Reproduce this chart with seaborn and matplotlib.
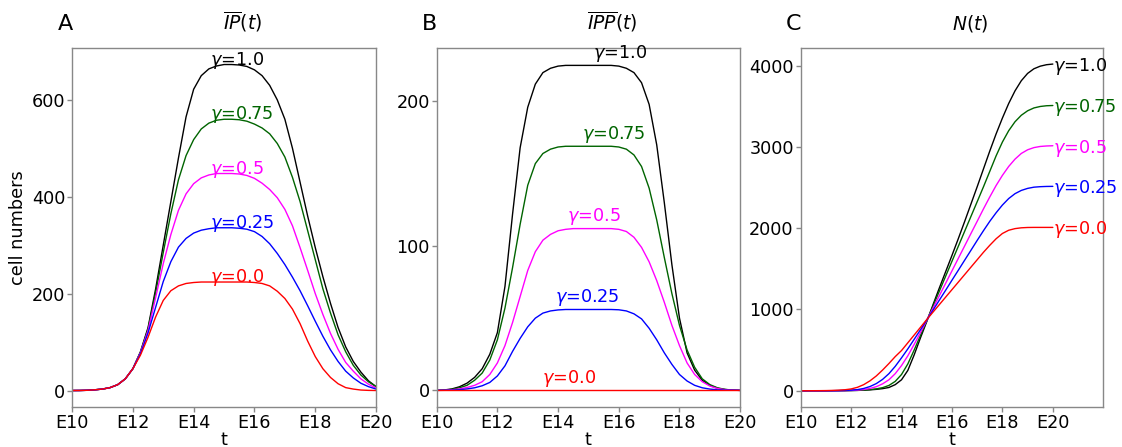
import matplotlib
matplotlib.use("Agg")
import matplotlib.pyplot as plt
import seaborn as sns

sns.set_style("white")
plt.rcParams['font.family'] = ['DejaVu Sans']
plt.rcParams['mathtext.fontset'] = 'dejavusans'
plt.rcParams['text.color'] = 'black'
plt.rcParams['axes.labelcolor'] = 'black'

# time in embryonic days (E10 .. E20, quarter-day readings)
t = [10.0, 10.25, 10.5, 10.75, 11.0, 11.25, 11.5, 11.75, 12.0,
     12.25, 12.5, 12.75, 13.0, 13.25, 13.5, 13.75, 14.0,
     14.25, 14.5, 14.75, 15.0, 15.25, 15.5, 15.75, 16.0,
     16.25, 16.5, 16.75, 17.0, 17.25, 17.5, 17.75, 18.0,
     18.25, 18.5, 18.75, 19.0, 19.25, 19.5, 19.75, 20.0]

gammas = ["1.0", "0.75", "0.5", "0.25", "0.0"]
colors = ["black", "darkgreen", "magenta", "blue", "red"]

# Panel A: IP(t)
ip_10 = [0, 0.1, 0.5, 1.5, 3, 6, 12, 24, 45,
         80, 130, 210, 300, 390, 480, 565, 622,
         650, 664, 670, 673, 673, 672, 669, 662,
         650, 630, 600, 560, 500, 430, 360, 295,
         235, 180, 130, 90, 60, 38, 20, 8]
ip_075 = [0, 0.1, 0.5, 1.5, 3, 6, 12, 24, 45,
          79, 127, 202, 285, 365, 435, 485, 518,
          540, 552, 558, 560, 560, 559, 556, 550,
          542, 530, 510, 482, 440, 390, 330, 270,
          210, 160, 115, 80, 52, 32, 18, 8]
ip_05 = [0, 0.1, 0.5, 1.5, 3, 6, 12, 24, 45,
         78, 124, 192, 262, 322, 372, 406, 427,
         439, 445, 448, 448, 448, 447, 444, 438,
         428, 415, 398, 374, 340, 295, 248, 200,
         157, 118, 85, 58, 40, 24, 13, 5]
ip_025 = [0, 0.1, 0.5, 1.5, 3, 6, 12, 24, 45,
          76, 119, 172, 225, 266, 296, 314, 325,
          331, 334, 336, 336, 336, 335, 333, 328,
          318, 303, 283, 260, 234, 206, 175, 143,
          112, 84, 60, 40, 26, 15, 8, 3]
ip_00 = [0, 0.1, 0.5, 1.5, 3, 6, 12, 24, 45,
         73, 110, 152, 186, 206, 216, 221, 223,
         224, 224, 224, 224, 224, 224, 224, 223,
         221, 216, 205, 190, 168, 138, 102, 70,
         45, 27, 14, 6, 3, 1, 0.3, 0]

# Panel B: IPP(t)
ipp_10 = [0, 0.3, 1, 2.5, 5, 9, 15, 25, 40,
          72, 122, 168, 196, 212, 220, 223, 224.5,
          225, 225, 225, 225, 225, 225, 225, 224.5,
          223, 220, 213, 198, 170, 130, 87, 50,
          26, 14, 7, 3.5, 1.5, 0.6, 0.2, 0]
ipp_075 = [0, 0.2, 0.7, 1.8, 3.5, 7, 12, 21, 35,
           57, 85, 115, 142, 157, 164, 167, 168.5,
           169, 169, 169, 169, 169, 169, 169, 168.5,
           167, 163, 155, 140, 118, 92, 67, 45,
           28, 16, 8, 4, 1.8, 0.7, 0.2, 0]
ipp_05 = [0, 0.1, 0.4, 1, 2, 3.5, 6, 11, 19,
          31, 47, 65, 83, 96, 104, 108, 110.5,
          111.5, 112, 112, 112, 112, 112, 112, 111.5,
          110, 106, 99, 89, 76, 61, 45, 31,
          19, 11, 6, 3, 1.3, 0.5, 0.2, 0]
ipp_025 = [0, 0.05, 0.2, 0.5, 1, 1.8, 3.2, 5.5, 10,
           17, 27, 36, 44, 50, 53.5, 55, 55.7,
           56, 56, 56, 56, 56, 56, 56, 55.8,
           55, 53, 49.5, 43, 35, 26, 18, 11,
           6.5, 3.5, 1.8, 0.9, 0.4, 0.2, 0.1, 0]
ipp_00 = [0, 0, 0, 0, 0, 0, 0, 0, 0,
          0, 0, 0, 0, 0, 0, 0, 0,
          0, 0, 0, 0, 0, 0, 0, 0,
          0, 0, 0, 0, 0, 0, 0, 0,
          0, 0, 0, 0, 0, 0, 0, 0]

# Panel C: N(t)
n_10 = [0, 0, 0, 0, 0, 0.5, 1, 1.5, 2.5,
        4, 7, 11, 17, 26, 40, 75, 135,
        250, 440, 650, 851, 1060, 1265, 1465, 1665,
        1870, 2080, 2295, 2510, 2730, 2950, 3160, 3355,
        3535, 3690, 3815, 3905, 3962, 3994, 4012, 4020]
n_075 = [0, 0, 0, 0, 0.2, 0.5, 1, 1.5, 3,
         5, 9, 14, 23, 38, 65, 115, 200,
         330, 500, 680, 860, 1043, 1226, 1410, 1593,
         1776, 1960, 2143, 2326, 2510, 2700, 2890, 3060,
         3200, 3310, 3390, 3445, 3480, 3498, 3507, 3510]
n_05 = [0, 0, 0, 0, 0.2, 0.5, 1, 2, 4,
        8, 15, 28, 50, 85, 135, 210, 310,
        430, 570, 715, 865, 1018, 1170, 1323, 1475,
        1628, 1780, 1933, 2085, 2238, 2385, 2525, 2650,
        2760, 2850, 2920, 2965, 2992, 3006, 3012, 3015]
n_025 = [0, 0, 0, 0, 0.2, 0.6, 1.5, 3.5, 7,
         14, 28, 52, 88, 140, 210, 300, 405,
         515, 632, 750, 870, 992, 1115, 1237, 1360,
         1482, 1605, 1727, 1850, 1970, 2085, 2190, 2285,
         2365, 2425, 2465, 2490, 2505, 2511, 2514, 2515]
n_00 = [0, 0, 0.5, 1, 2, 4, 7, 12, 22,
        42, 75, 122, 182, 255, 335, 420, 495,
        590, 685, 780, 876, 968, 1060, 1152, 1244,
        1336, 1428, 1520, 1612, 1704, 1790, 1870, 1935,
        1975, 1995, 2005, 2009, 2010, 2010, 2010, 2010]

xticks = [10, 12, 14, 16, 18, 20]
xticklabels = ["E10", "E12", "E14", "E16", "E18", "E20"]

# label x positions for panel B labels
b_label_x = [15.16, 14.78, 14.29, 13.9, 13.47]

FS = 12.7
GRAY = "#888888"

fig = plt.figure(figsize=(11.22, 4.47), dpi=100)
axA = fig.add_axes([0.0642, 0.0895, 0.271, 0.803])
axB = fig.add_axes([0.3892, 0.0895, 0.2705, 0.803])
axC = fig.add_axes([0.7136, 0.0895, 0.2697, 0.803])

panels = [
    (axA, [ip_10, ip_075, ip_05, ip_025, ip_00], r"$\overline{IP}(t)$", "A"),
    (axB, [ipp_10, ipp_075, ipp_05, ipp_025, ipp_00], r"$\overline{IPP}(t)$", "B"),
    (axC, [n_10, n_075, n_05, n_025, n_00], r"$N(t)$", "C"),
]

title_x = {"A": 0.5625, "B": 0.578, "C": 0.56}

for ax, series, title, letter in panels:
    for vals, col in zip(series, colors):
        sns.lineplot(x=t, y=vals, color=col, lw=1, ax=ax)
    for sp in ax.spines.values():
        sp.set_color(GRAY)
        sp.set_linewidth(1)
    ax.tick_params(axis="both", which="major", length=3.5, width=1, color=GRAY,
                   labelcolor="black", labelsize=FS, direction="out",
                   bottom=True, left=True, pad=1.5)
    ax.set_xticks(xticks)
    ax.set_xticklabels(xticklabels)
    ax.set_xlabel("t", fontsize=FS, labelpad=-0.5)
    ax.text(title_x[letter], 1.04, title, transform=ax.transAxes, ha="center",
            va="bottom", fontsize=13.5)
    ax.text(-0.048, 1.04, letter, transform=ax.transAxes, ha="left",
            va="bottom", fontsize=16)

# Panel A
axA.set_xlim(10, 20)
axA.set_ylim(-34, 707)
axA.set_yticks([0, 200, 400, 600])
axA.set_ylabel("cell numbers", fontsize=FS, labelpad=3)
for vals, col, g in zip(panels[0][1], colors, gammas):
    axA.text(14.55, max(vals), r"$\gamma$=" + g, color=col, fontsize=FS,
             ha="left", va="baseline")

# Panel B
axB.set_xlim(10, 20)
axB.set_ylim(-11.5, 237)
axB.set_yticks([0, 100, 200])
for vals, col, g, xl in zip(panels[1][1], colors, gammas, b_label_x):
    axB.text(xl, max(vals) + 5, r"$\gamma$=" + g, color=col, fontsize=FS,
             ha="left", va="baseline")

# Panel C
axC.set_xlim(10, 22)
axC.set_ylim(-200, 4217)
axC.set_yticks([0, 1000, 2000, 3000, 4000])
for vals, col, g in zip(panels[2][1], colors, gammas):
    axC.text(20, vals[-1] - 30, r"$\gamma$=" + g, color=col, fontsize=FS,
             ha="left", va="center", clip_on=False)

fig.savefig("out.png", dpi=100)
